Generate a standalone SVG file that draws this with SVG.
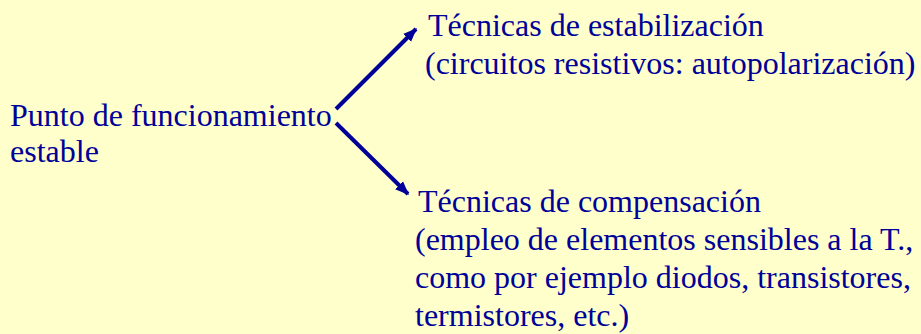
<svg xmlns="http://www.w3.org/2000/svg" width="921" height="334" viewBox="0 0 921 334">
<style>
text{font-family:"Liberation Serif","Times New Roman",serif;font-size:32px;fill:#000099}
.c{stroke:#000099;stroke-width:4;fill:none}
</style>
<defs>
<marker id="ah" viewBox="0 0 10 10" refX="9" refY="5" markerWidth="3.5" markerHeight="3.5" orient="auto" markerUnits="strokeWidth">
<path d="M0,1 L10,5 L0,9 z" fill="#000099"/>
</marker>
</defs>
<rect width="921" height="334" fill="#FFFFCC"/>
<g id="connectors">
<line class="c" x1="336" y1="109" x2="416" y2="29" marker-end="url(#ah)"/>
<line class="c" x1="336" y1="123" x2="408" y2="194" marker-end="url(#ah)"/>
</g>
<g id="node-punto">
<text x="10" y="126">Punto de funcionamiento</text>
<text x="10" y="162">estable</text>
</g>
<g id="node-estabilizacion">
<text x="428" y="36">Técnicas de estabilización</text>
<text x="425" y="74">(circuitos resistivos: autopolarización)</text>
</g>
<g id="node-compensacion">
<text x="418" y="212">Técnicas de compensación</text>
<text x="415" y="250">(empleo de elementos sensibles a la T.,</text>
<text x="415" y="288">como por ejemplo diodos, transistores,</text>
<text x="415" y="326">termistores, etc.)</text>
</g>
</svg>
